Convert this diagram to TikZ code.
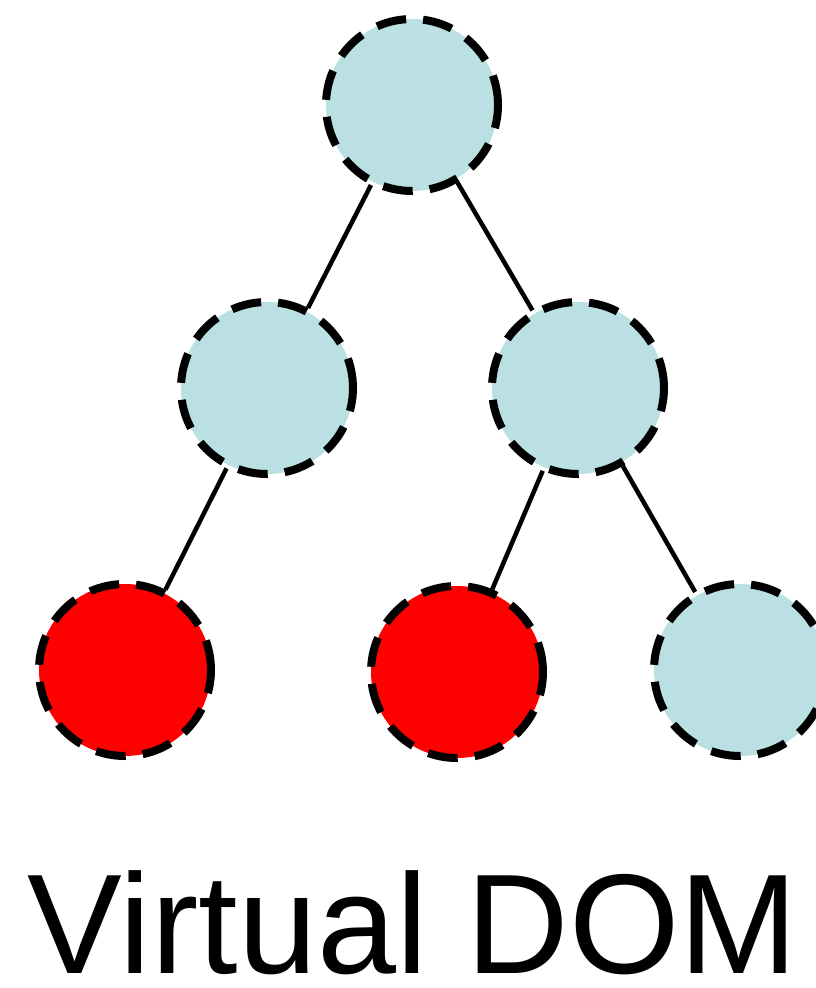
\documentclass[tikz,border=0pt]{standalone}
\usepackage{fontspec}
\setmainfont{Liberation Sans}
\definecolor{domblue}{HTML}{BBE0E3}
\definecolor{domred}{HTML}{FF0000}
\begin{document}
\begin{tikzpicture}[x=1pt, y=1pt,
    dom/.style={circle, draw, line width=8pt, dash pattern=on 30pt off 17pt, minimum size=172pt, fill=domblue},
    changed/.style={dom, fill=domred},
    link/.style={line width=4.5pt}]
    \useasboundingbox (0,0) rectangle (815,-988);
    \node [dom] (root) at (412,-105) {};
    \node [dom] (left) at (267,-388) {};
    \node [dom] (right) at (578,-388) {};
    \node [changed] (leftleaf) at (125,-670) {};
    \node [changed] (midleaf) at (457,-672) {};
    \node [dom] (rightleaf) at (740,-670) {};
    \draw [link] (root) -- (left);
    \draw [link] (root) -- (right);
    \draw [link] (left) -- (leftleaf);
    \draw [link] (right) -- (midleaf);
    \draw [link] (right) -- (rightleaf);
    \node [anchor=base, font=\fontsize{142}{146}\selectfont, inner sep=0pt, text depth=0pt] (caption) at (413,-973) {Virtual DOM};
\end{tikzpicture}
\end{document}
